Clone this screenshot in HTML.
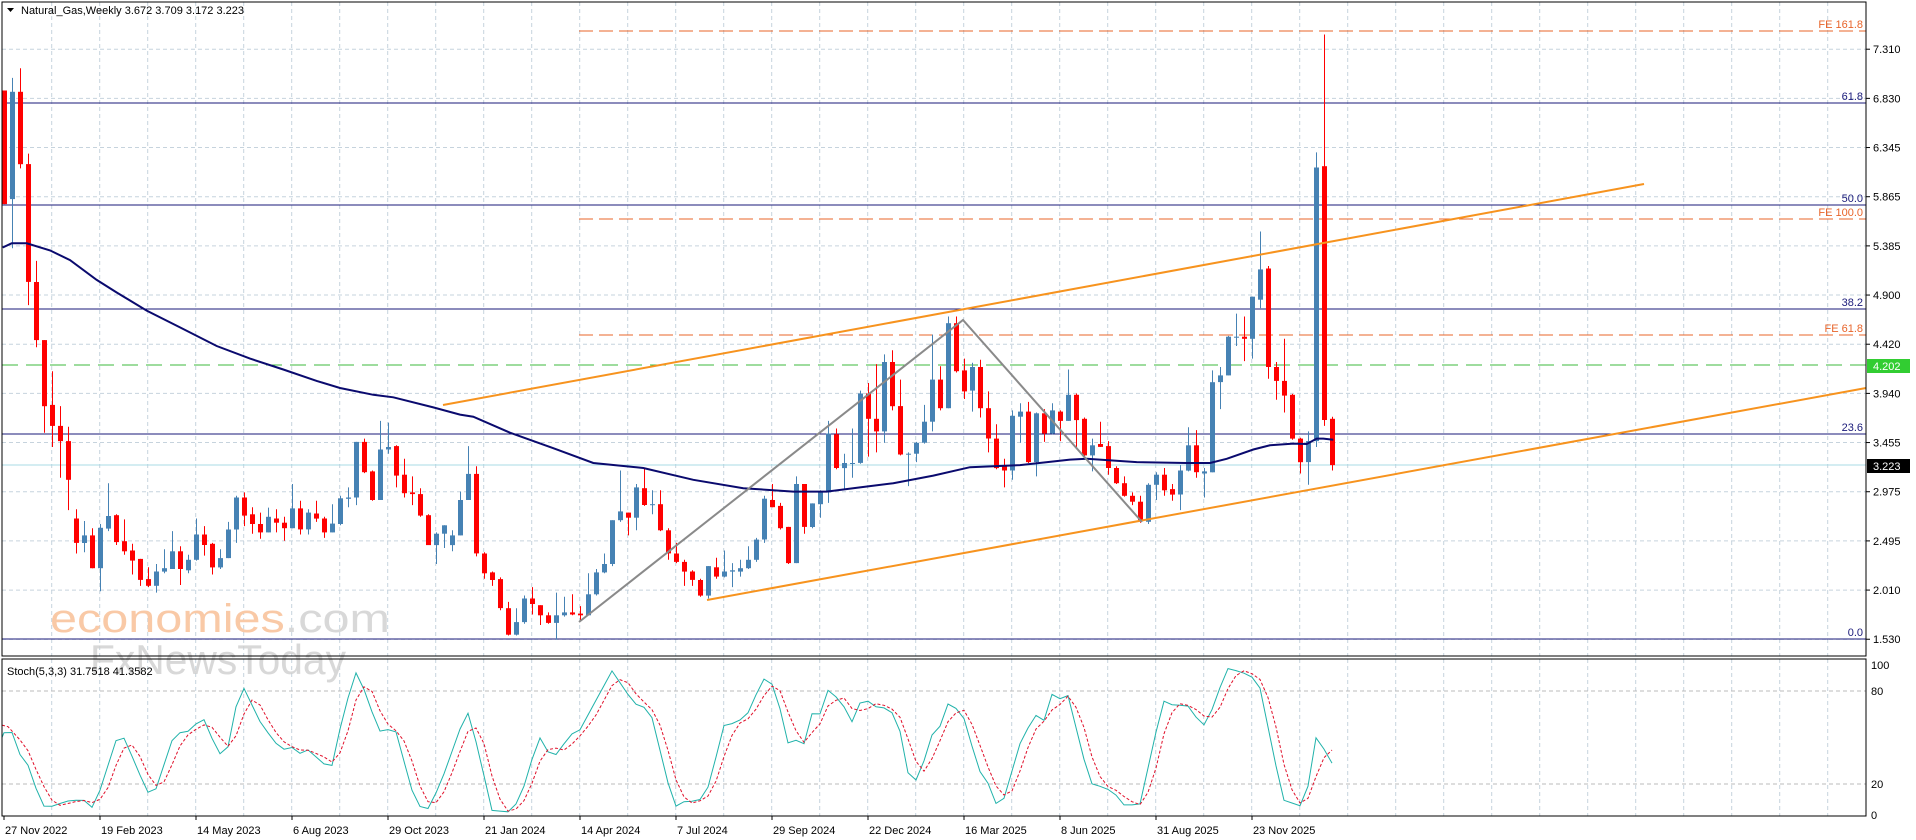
<!DOCTYPE html>
<html><head><meta charset="utf-8">
<style>
html,body{margin:0;padding:0;background:#fff;width:1916px;height:840px;overflow:hidden}
svg{display:block}
text{font-family:"Liberation Sans",sans-serif}
</style></head>
<body>
<svg id="c" xmlns="http://www.w3.org/2000/svg" width="1916" height="840" viewBox="0 0 1916 840">
<rect width="1916" height="840" fill="#fff"/>
<g id="grid"></g>
<!-- watermark -->
<text x="50" y="632" font-size="40" textLength="340" lengthAdjust="spacingAndGlyphs"><tspan fill="#f9c9a6">economies</tspan><tspan fill="#d8d8d8">.com</tspan></text>
<text x="90" y="674" font-size="42" fill="#cfcfcf" opacity="0.8" textLength="256" lengthAdjust="spacingAndGlyphs">FxNewsToday</text>
<g id="lines"></g>
<g id="candles"></g>
<g id="over"></g>
<g id="stoch"></g>
<g id="axis"></g>
</svg>
<script>
var NS="http://www.w3.org/2000/svg";
function el(p,t,a,txt){var e=document.createElementNS(NS,t);for(var k in a)e.setAttribute(k,a[k]);if(txt!==undefined)e.textContent=txt;document.getElementById(p).appendChild(e);return e;}
var R=1866;
// grid
for(var k=0;k<13;k++){var y=49.2+49.17*k;el('grid','line',{x1:2,x2:R,y1:y,y2:y,stroke:'#c6d3dd','stroke-dasharray':'4,3','stroke-width':1});}
for(var x=51.7;x<R;x+=48){el('grid','line',{x1:x,x2:x,y1:2,y2:656,stroke:'#c6d3dd','stroke-dasharray':'4,3'});el('grid','line',{x1:x,x2:x,y1:659,y2:816,stroke:'#c6d3dd','stroke-dasharray':'4,3'});}
el('grid','line',{x1:2,x2:R,y1:691,y2:691,stroke:'#bbb','stroke-dasharray':'4,3'});
el('grid','line',{x1:2,x2:R,y1:784,y2:784,stroke:'#bbb','stroke-dasharray':'4,3'});
// fib lines
var fib=[[103,'61.8'],[205,'50.0'],[309,'38.2'],[434,'23.6'],[639,'0.0']];
fib.forEach(function(f){el('lines','line',{x1:2,x2:R,y1:f[0],y2:f[0],stroke:'#1a1a7a','stroke-width':1});el('lines','text',{x:1863,y:f[0]-3,'font-size':11,fill:'#1a1a7a','text-anchor':'end'},f[1]);});
var fe=[[31,'FE 161.8'],[219,'FE 100.0'],[335,'FE 61.8']];
fe.forEach(function(f){el('lines','line',{x1:579,x2:R,y1:f[0],y2:f[0],stroke:'#e8642a','stroke-dasharray':'14,6'});el('lines','text',{x:1863,y:f[0]-3,'font-size':11,fill:'#e8642a','text-anchor':'end'},f[1]);});
el('lines','line',{x1:2,x2:R,y1:365,y2:365,stroke:'#3cb83c','stroke-dasharray':'16,8'});
el('lines','line',{x1:2,x2:R,y1:465,y2:465,stroke:'#a8dbe6'});
// MA
var ma=[[8,588],[35,578],[80,578],[150,595],[210,618],[290,665],[350,695],[440,738],[540,778],[650,822],[750,852],[850,878],[950,905],[1020,922],[1120,938],[1180,944],[1300,968],[1380,985],
[1420,990],[1530,1028],[1660,1065],[1780,1100],[1930,1112],[2080,1140],[2230,1160],[2380,1168],[2480,1168],[2580,1158],[2680,1148],[2800,1130],
[2910,1110],[3060,1105],[3210,1092],[3260,1090],[3410,1098],[3560,1100],[3630,1100],[3680,1090],[3760,1068],[3810,1058],[3880,1054],[3920,1055],[3950,1042],[3970,1042],[4000,1045]];
el('over','polyline',{points:ma.map(function(p){return (p[0]/3).toFixed(1)+','+(p[1]/2.376).toFixed(1)}).join(' '),fill:'none',stroke:'#0a0a6e','stroke-width':2});
// candles
var D=[[215,485,215,485,0],[218,473,185,590,1],[218,390,162,400,0],[390,670,365,725,0],[670,808,620,825,0],[808,965,808,1028,0],[962,1012,882,1062,0],[1012,1048,965,1135,0],[1048,1140,1014,1212,0],[1232,1290,1210,1315,0],
[1272,1290,1238,1312,1],[1272,1350,1255,1350,0],[1254,1350,1245,1405,1],[1226,1256,1148,1262,1],[1224,1288,1222,1295,0],[1286,1310,1234,1318,0],[1308,1332,1292,1365,0],[1328,1378,1328,1392,0],[1376,1392,1348,1395,0],[1358,1392,1340,1408,1],
[1350,1358,1305,1362,1],[1310,1352,1262,1352,1],[1310,1352,1298,1390,0],[1330,1355,1318,1362,1],[1270,1330,1232,1332,1],[1270,1295,1250,1320,0],[1292,1348,1290,1365,0],[1326,1348,1305,1352,1],[1258,1326,1240,1326,1],[1182,1258,1178,1290,1],
[1182,1225,1170,1250,0],[1222,1245,1205,1268,0],[1245,1265,1218,1280,0],[1228,1265,1206,1265,1],[1232,1242,1210,1265,0],[1242,1255,1228,1285,0],[1208,1255,1150,1255,1],[1208,1258,1190,1270,0],[1218,1258,1210,1270,1],[1220,1232,1190,1240,0],
[1232,1265,1228,1278,0],[1244,1265,1198,1265,1],[1184,1245,1178,1248,1],[1182,1185,1158,1205,1],[1050,1182,1050,1200,1],[1050,1122,1042,1124,0],[1120,1188,1118,1190,0],[1068,1188,1000,1188,1],[1062,1068,1004,1078,1],[1060,1130,1058,1158,0],
[1128,1172,1090,1182,0],[1170,1174,1132,1200,0],[1174,1225,1160,1228,0],[1224,1295,1222,1295,0],[1268,1295,1265,1340,1],[1248,1268,1248,1302,1],[1272,1295,1260,1310,1],[1188,1272,1168,1272,1],[1126,1188,1060,1188,1],[1126,1315,1108,1322,0],
[1315,1362,1312,1375,0],[1360,1378,1358,1392,0],[1376,1445,1372,1450,0],[1445,1508,1430,1510,0],[1478,1508,1445,1510,1],[1422,1478,1415,1482,1],[1422,1435,1395,1460,0],[1438,1462,1438,1485,0],[1462,1480,1455,1482,0],[1462,1480,1408,1520,1],
[1455,1462,1418,1465,1],[1455,1460,1412,1462,0],[1458,1462,1440,1475,0],[1412,1462,1362,1462,1],[1360,1412,1352,1415,1],[1340,1360,1315,1362,1],[1236,1340,1236,1345,1],[1215,1236,1118,1240,1],[1218,1230,1218,1272,0],[1158,1230,1150,1260,1],
[1160,1200,1112,1202,0],[1198,1200,1165,1222,1],[1198,1260,1165,1262,0],[1260,1315,1255,1330,0],[1315,1335,1290,1338,0],[1335,1358,1330,1392,0],[1358,1378,1355,1392,0],[1378,1415,1375,1418,0],[1345,1415,1345,1422,1],[1348,1370,1325,1375,0],
[1358,1370,1308,1372,1],[1355,1358,1338,1395,1],[1350,1358,1330,1370,1],[1330,1350,1298,1352,1],[1282,1330,1278,1335,1],[1185,1282,1178,1290,1],[1188,1205,1150,1205,0],[1202,1255,1195,1258,0],[1252,1338,1252,1340,0],[1150,1338,1132,1338,1],
[1150,1252,1150,1268,0],[1196,1252,1196,1255,1],[1168,1198,1165,1230,1],[1030,1170,1000,1195,1],[1032,1112,1018,1115,0],[1100,1112,1078,1162,1],[1100,1102,1018,1135,1],[935,1100,928,1102,1],[935,995,910,1085,0],[995,1025,865,1075,0],
[860,1025,842,1052,1],[860,965,832,975,0],[965,1080,902,1082,0],[1078,1080,1075,1155,1],[1052,1078,1050,1098,1],[1002,1052,962,1054,1],[902,1002,795,1025,1],[902,970,870,975,0],[768,970,752,970,1],[768,882,752,885,0],
[880,930,852,948,0],[872,928,862,978,1],[872,970,855,992,0],[970,1042,930,1075,0],[1042,1112,1008,1115,0],[1108,1118,1090,1158,0],[988,1118,975,1140,1],[978,990,958,1052,1],[978,1098,955,1100,0],[982,1098,980,1132,1],
[982,1030,972,1050,0],[975,1030,958,1032,1],[978,1000,975,1048,0],[938,1000,878,1000,1],[938,998,935,1062,0],[995,1082,992,1085,0],[1058,1082,1042,1120,1],[1055,1062,1002,1062,0],[1060,1112,1048,1128,0],[1112,1148,1108,1150,0],
[1148,1178,1132,1180,0],[1178,1192,1170,1200,0],[1192,1238,1178,1242,0],[1152,1240,1148,1245,1],[1128,1152,1122,1188,1],[1128,1165,1112,1178,0],[1162,1175,1150,1190,0],[1118,1175,1105,1212,1],[1058,1118,1015,1120,1],[1058,1122,1022,1135,0],
[1120,1125,1112,1182,1],[908,1122,880,1122,1],[892,908,872,972,1],[800,892,798,892,1],[800,802,745,822,1],[800,805,752,858,0],[705,805,705,852,1],[640,712,550,732,1],[638,872,632,900,0],[872,905,860,950,0],
[905,940,805,980,0],[938,1042,936,1045,0],[1042,1098,1040,1125,0],[1048,1098,1025,1152,1],[398,1048,362,1062,1],[395,998,82,1012,0],[995,1105,990,1118,0]];
var f=2.376;
D.forEach(function(d,i){var x=4+8*i,c=d[4]?'#4682b4':'#f00';
el('candles','line',{x1:x+0.5,x2:x+0.5,y1:(d[2]/f).toFixed(1),y2:(d[3]/f).toFixed(1),stroke:c,'stroke-width':1});
var t=d[0]/f,b=d[1]/f;if(b-t<1)b=t+1;
el('candles','rect',{x:x-2,y:t.toFixed(1),width:5,height:(b-t).toFixed(1),fill:c});});
// channel + zigzag
el('over','line',{x1:443,y1:405,x2:1644,y2:184,stroke:'#f7931e','stroke-width':2});
el('over','line',{x1:707,y1:600,x2:R,y2:388,stroke:'#f7931e','stroke-width':2});
el('over','polyline',{points:'579,622 963,320 1142,522',fill:'none',stroke:'#8a8a8a','stroke-width':2});
// stoch
var K=[[3.6,53],[11,55],[20,39],[27,34],[42,6],[49,5],[67,9],[83,10],[92,5],[100,16],[116,48],[123,51],[134,35],[147,15],[154,13],[172,48],[179,53],[188,54],[203,63],[219,39],[228,44],[237,73],[243,83],[261,59],[281,42],[295,44],[301,39],[308,42],[331,29],[339,53],[355,93],[364,81],[379,54],[395,56],[411,18],[417,6],[429,4],[442,23],[467,68],[480,38],[491,3],[509,2],[520,10],[539,51],[547,41],[556,39],[571,52],[580,55],[612,93],[634,72],[650,68],[674,5],[684,8.6],[699,9],[710,20],[723,57.6],[731,58.7],[746,63],[763,87.7],[770,87.5],[778,75],[787,46],[793,49],[804,46],[810,66],[819,63],[827,81],[842,73],[851,58.5],[859,72],[867,74],[874,70],[885,69],[892,66],[900,54],[906,29],[915,21],[924,35],[932,51.6],[941,58],[947,72],[962,66.6],[979,29],[988,20.5],[996,7.5],[1003,8.6],[1020,46],[1035,65],[1043,59],[1052,77.8],[1058,73.7],[1067,79.6],[1090,20.5],[1101,18.3],[1114,15],[1122,6.4],[1131,6.8],[1139,4.3],[1163,73.7],[1176,70],[1186,72],[1203,57],[1212,68],[1227,94.6],[1240,92.5],[1250,90],[1259,85],[1283,9.7],[1300,6],[1306,10.8],[1317,53.7],[1325,40.9],[1332,33.5]];
function kv(x){for(var j=0;j<K.length-1;j++){if(x<=K[j+1][0]){var a=K[j],b=K[j+1];return a[1]+(b[1]-a[1])*(x-a[0])/(b[0]-a[0]);}}return K[K.length-1][1];}
function sy(v){return 815-v*1.55;}
var kp=[],kv2=[];for(var i=0;i<167;i++){var x=4+8*i;var v=kv(Math.max(x,3.6));kv2.push(v);kp.push(x+','+sy(v).toFixed(1));}
var dp=[];for(var i=2;i<167;i++){var v=(kv2[i]+kv2[i-1]+kv2[i-2])/3;dp.push((4+8*i)+','+sy(v).toFixed(1));}
el('stoch','polyline',{points:'2,'+sy(50)+' '+kp.join(' '),fill:'none',stroke:'#20b2aa','stroke-width':1});
el('stoch','polyline',{points:'2,'+sy(58)+' 8,'+sy(57)+' '+dp.join(' '),fill:'none',stroke:'#e0102a','stroke-width':1,'stroke-dasharray':'3,2'});
el('stoch','text',{x:7,y:675,'font-size':11,fill:'#000'},'Stoch(5,3,3) 31.7518 41.3582');
// frames
el('axis','rect',{x:2,y:2,width:R-2,height:654,fill:'none',stroke:'#000','stroke-width':1});
el('axis','rect',{x:2,y:659,width:R-2,height:157,fill:'none',stroke:'#000','stroke-width':1});
// header
el('axis','path',{d:'M7,8 L14,8 L10.5,12 Z',fill:'#000'});
el('axis','text',{x:21,y:14,'font-size':11,fill:'#000'},'Natural_Gas,Weekly  3.672 3.709 3.172 3.223');
// price labels
var pl=['7.310','6.830','6.345','5.865','5.385','4.900','4.420','3.940','3.455','2.975','2.495','2.010','1.530'];
pl.forEach(function(t,k){var y=49.2+49.17*k;el('axis','line',{x1:R,x2:R+4,y1:y,y2:y,stroke:'#000'});el('axis','text',{x:1873,y:y+4,'font-size':11,fill:'#000'},t);});
el('axis','rect',{x:1867,y:359,width:43,height:14,fill:'#32cd32'});
el('axis','text',{x:1873,y:370,'font-size':11,fill:'#fff'},'4.202');
el('axis','rect',{x:1867,y:459,width:43,height:14,fill:'#000'});
el('axis','text',{x:1873,y:470,'font-size':11,fill:'#fff'},'3.223');
[[100,669],[80,695],[20,788],[0,819]].forEach(function(s){el('axis','text',{x:1871,y:s[1],'font-size':11,fill:'#000'},String(s[0]));});
// dates
var dt=['27 Nov 2022','19 Feb 2023','14 May 2023','6 Aug 2023','29 Oct 2023','21 Jan 2024','14 Apr 2024','7 Jul 2024','29 Sep 2024','22 Dec 2024','16 Mar 2025','8 Jun 2025','31 Aug 2025','23 Nov 2025'];
dt.forEach(function(t,k){var x=4+96*k;el('axis','line',{x1:x,x2:x,y1:816,y2:820,stroke:'#000'});el('axis','text',{x:x+1,y:834,'font-size':11,fill:'#000'},t);});
</script>
</body></html>
